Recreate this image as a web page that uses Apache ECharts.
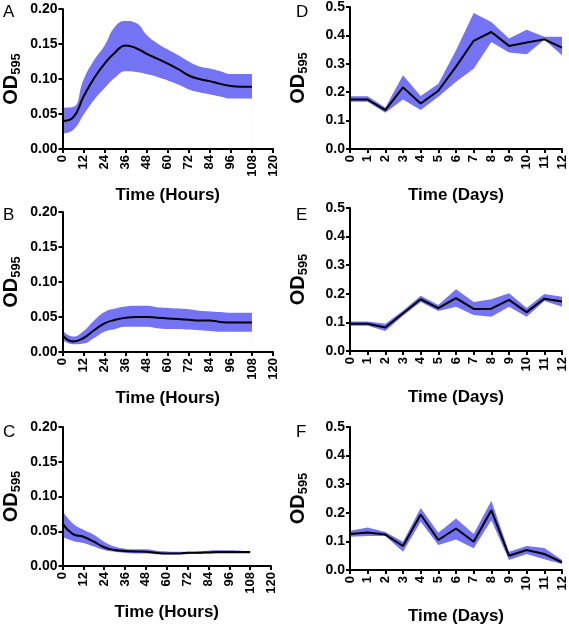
<!DOCTYPE html>
<html>
<head>
<meta charset="utf-8">
<script src="https://cdn.jsdelivr.net/npm/echarts@6/dist/echarts.min.js"></script>
<style>html,body{margin:0;padding:0;background:#fff}#c{width:569px;height:627px}</style>
</head>
<body>
<div id="c"></div>
<script>
// ---- Data ----
var hours = [0, 6, 12, 18, 24, 30, 36, 42, 48, 54, 60, 66, 72, 78, 84, 90, 96, 102, 108];
var days = [0, 1, 2, 3, 4, 5, 6, 7, 8, 9, 10, 11, 12];

var aMean  = [0.040, 0.045, 0.075, 0.101, 0.122, 0.138, 0.148, 0.144, 0.136, 0.129, 0.122, 0.114, 0.105, 0.100, 0.097, 0.093, 0.090, 0.089, 0.089];
var aUpper = [0.059, 0.060, 0.099, 0.127, 0.148, 0.175, 0.183, 0.180, 0.163, 0.151, 0.142, 0.134, 0.125, 0.118, 0.115, 0.111, 0.107, 0.107, 0.107];
var aLower = [0.022, 0.027, 0.049, 0.070, 0.087, 0.102, 0.111, 0.110, 0.107, 0.103, 0.098, 0.092, 0.085, 0.081, 0.078, 0.075, 0.072, 0.072, 0.072];

var bMean  = [0.024, 0.015, 0.020, 0.031, 0.041, 0.046, 0.049, 0.050, 0.050, 0.049, 0.048, 0.047, 0.046, 0.045, 0.045, 0.043, 0.042, 0.042, 0.042];
var bUpper = [0.031, 0.022, 0.030, 0.045, 0.057, 0.062, 0.065, 0.066, 0.066, 0.064, 0.063, 0.062, 0.061, 0.059, 0.058, 0.057, 0.056, 0.056, 0.056];
var bLower = [0.017, 0.011, 0.012, 0.020, 0.029, 0.033, 0.036, 0.036, 0.036, 0.034, 0.033, 0.033, 0.032, 0.031, 0.030, 0.029, 0.029, 0.029, 0.029];

var cMean  = [0.061, 0.046, 0.042, 0.035, 0.027, 0.023, 0.0215, 0.021, 0.0205, 0.019, 0.018, 0.018, 0.019, 0.019, 0.0196, 0.020, 0.020, 0.020, 0.020];
var cUpper = [0.079, 0.061, 0.052, 0.045, 0.035, 0.028, 0.025, 0.024, 0.024, 0.022, 0.021, 0.0205, 0.0205, 0.021, 0.022, 0.0225, 0.0225, 0.022, 0.0215];
var cLower = [0.042, 0.036, 0.033, 0.028, 0.023, 0.0205, 0.019, 0.018, 0.018, 0.017, 0.017, 0.017, 0.017, 0.0175, 0.018, 0.018, 0.018, 0.018, 0.018];

var dMean  = [0.174, 0.174, 0.137, 0.217, 0.160, 0.205, 0.290, 0.381, 0.412, 0.363, 0.375, 0.386, 0.357];
var dUpper = [0.186, 0.186, 0.146, 0.260, 0.187, 0.230, 0.348, 0.479, 0.447, 0.389, 0.420, 0.395, 0.395];
var dLower = [0.166, 0.166, 0.128, 0.174, 0.137, 0.184, 0.237, 0.283, 0.377, 0.340, 0.334, 0.385, 0.330];

var eMean  = [0.095, 0.095, 0.082, 0.132, 0.181, 0.150, 0.185, 0.147, 0.148, 0.179, 0.136, 0.183, 0.173];
var eUpper = [0.103, 0.103, 0.095, 0.141, 0.193, 0.161, 0.216, 0.171, 0.181, 0.202, 0.150, 0.199, 0.190];
var eLower = [0.088, 0.088, 0.070, 0.123, 0.171, 0.140, 0.155, 0.126, 0.120, 0.155, 0.120, 0.175, 0.155];

var fMean  = [0.126, 0.131, 0.124, 0.084, 0.194, 0.105, 0.145, 0.099, 0.209, 0.050, 0.070, 0.056, 0.027];
var fUpper = [0.137, 0.149, 0.133, 0.099, 0.217, 0.130, 0.180, 0.126, 0.242, 0.064, 0.084, 0.077, 0.035];
var fLower = [0.116, 0.119, 0.119, 0.064, 0.169, 0.087, 0.107, 0.076, 0.174, 0.035, 0.056, 0.038, 0.021];

var hourTicks = { min: 0, max: 120, interval: 12 };
var dayTicks = { min: 0, max: 12, interval: 1 };
var hourY = { min: 0, max: 0.20, interval: 0.05, digits: 2 };
var dayY = { min: 0, max: 0.5, interval: 0.1, digits: 1 };

// ---- Layout ----
var FONT = "'Liberation Sans', Arial, sans-serif";
var BAND = '#7373f3';
var panels = [
  { letter: 'A', x: hours, mean: aMean, up: aUpper, lo: aLower, xs: hourTicks, ys: hourY, title: 'Time (Hours)', smooth: true, grid: { left: 62, top: 9, width: 211, height: 140 }, lp: [3, 4] },
  { letter: 'B', x: hours, mean: bMean, up: bUpper, lo: bLower, xs: hourTicks, ys: hourY, title: 'Time (Hours)', smooth: true, grid: { left: 62, top: 212, width: 211, height: 140 }, lp: [3, 207] },
  { letter: 'C', x: hours, mean: cMean, up: cUpper, lo: cLower, xs: hourTicks, ys: hourY, title: 'Time (Hours)', smooth: true, grid: { left: 62, top: 427, width: 209, height: 139 }, lp: [3, 424] },
  { letter: 'D', x: days, mean: dMean, up: dUpper, lo: dLower, xs: dayTicks, ys: dayY, title: 'Time (Days)', smooth: false, grid: { left: 350, top: 7, width: 212, height: 142 }, lp: [296, 4] },
  { letter: 'E', x: days, mean: eMean, up: eUpper, lo: eLower, xs: dayTicks, ys: dayY, title: 'Time (Days)', smooth: false, grid: { left: 350, top: 208, width: 212, height: 143 }, lp: [296, 207] },
  { letter: 'F', x: days, mean: fMean, up: fUpper, lo: fLower, xs: dayTicks, ys: dayY, title: 'Time (Days)', smooth: false, grid: { left: 350, top: 427, width: 212, height: 143 }, lp: [296, 424] }
];

var grids = [], xAxes = [], yAxes = [], series = [], graphics = [];
panels.forEach(function (p, i) {
  grids.push(Object.assign({ containLabel: false }, p.grid));
  xAxes.push({
    type: 'value', gridIndex: i, min: p.xs.min, max: p.xs.max, interval: p.xs.interval, z: 10,
    name: p.title, nameLocation: 'middle', nameGap: 38,
    nameTextStyle: { fontFamily: FONT, fontWeight: 'bold', fontSize: 17, color: '#000' },
    axisLine: { show: true, onZero: false, lineStyle: { color: '#000', width: 2 } },
    axisTick: { show: true, length: 4, lineStyle: { color: '#000', width: 2 } },
    axisLabel: { rotate: 90, margin: 6, fontFamily: FONT, fontWeight: 'bold', fontSize: 13, color: '#000' },
    splitLine: { show: false }
  });
  yAxes.push({
    type: 'value', gridIndex: i, min: p.ys.min, max: p.ys.max, interval: p.ys.interval, z: 10,
    name: '{a|OD}{b|595}', nameLocation: 'middle', nameGap: 40, nameRotate: 90,
    nameTextStyle: {
      fontFamily: FONT, fontWeight: 'bold', fontSize: 20, color: '#000',
      rich: {
        a: { fontFamily: FONT, fontWeight: 'bold', fontSize: 20, color: '#000' },
        b: { fontFamily: FONT, fontWeight: 'bold', fontSize: 13, color: '#000', padding: [10, 0, 0, 0] }
      }
    },
    axisLine: { show: true, onZero: false, lineStyle: { color: '#000', width: 2 } },
    axisTick: { show: true, length: 4, lineStyle: { color: '#000', width: 2 } },
    axisLabel: {
      margin: 5, fontFamily: FONT, fontWeight: 'bold', fontSize: 14, color: '#000',
      formatter: (function (d) { return function (v) { return v.toFixed(d); }; })(p.ys.digits)
    },
    splitLine: { show: false }
  });
  var upPts = p.x.map(function (t, k) { return [t, p.up[k]]; });
  var lowPts = p.x.map(function (t, k) { return [t, p.lo[k]]; });
  var meanPts = p.x.map(function (t, k) { return [t, p.mean[k]]; });
  var sm = p.smooth ? 0.5 : false;
  // upper edge filled down to zero with band colour
  series.push({
    type: 'line', xAxisIndex: i, yAxisIndex: i, data: upPts,
    symbol: 'none', smooth: sm, lineStyle: { width: 0, opacity: 0 },
    areaStyle: { color: BAND, opacity: 1 }, silent: true, z: 1
  });
  // lower edge filled down to zero with white, leaving the band between
  series.push({
    type: 'line', xAxisIndex: i, yAxisIndex: i, data: lowPts,
    symbol: 'none', smooth: sm, lineStyle: { width: 0, opacity: 0 },
    areaStyle: { color: '#ffffff', opacity: 1 }, silent: true, z: 2
  });
  series.push({
    type: 'line', xAxisIndex: i, yAxisIndex: i, data: meanPts,
    symbol: 'none', smooth: sm, lineStyle: { color: '#000', width: 2 }, silent: true, z: 3
  });
  graphics.push({
    type: 'text', left: p.lp[0], top: p.lp[1],
    style: { text: p.letter, font: '17px ' + FONT, fill: '#000' }
  });
});

var chart = echarts.init(document.getElementById('c'), null, { renderer: 'canvas' });
chart.setOption({
  animation: false,
  backgroundColor: '#fff',
  grid: grids, xAxis: xAxes, yAxis: yAxes, series: series, graphic: graphics
});
</script>
</body>
</html>
